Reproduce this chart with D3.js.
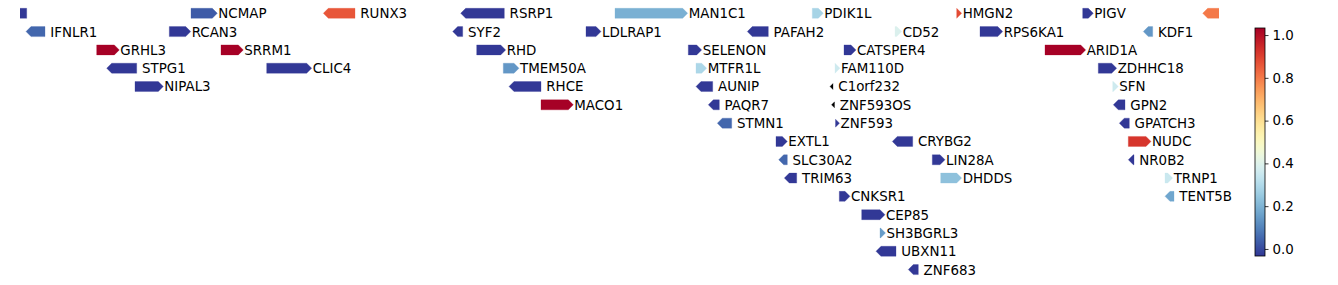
<!DOCTYPE html>
<html>
<head>
<meta charset="utf-8">
<script src="https://cdn.jsdelivr.net/npm/d3@7"></script>
<style>
  html, body { margin: 0; padding: 0; background: #fff; }
  svg { display: block; }
  text { font-family: "DejaVu Sans", sans-serif; }
</style>
</head>
<body>
<svg id="chart" width="1338" height="285"></svg>
<script>
// ---- data (positions in region units) ----
const geneNames  = ["", "NCMAP", "RUNX3", "RSRP1", "MAN1C1", "PDIK1L", "HMGN2", "PIGV", "",
  "IFNLR1", "RCAN3", "SYF2", "LDLRAP1", "PAFAH2", "CD52", "RPS6KA1", "KDF1",
  "GRHL3", "SRRM1", "RHD", "SELENON", "CATSPER4", "ARID1A",
  "STPG1", "CLIC4", "TMEM50A", "MTFR1L", "FAM110D", "ZDHHC18",
  "NIPAL3", "RHCE", "AUNIP", "C1orf232", "SFN",
  "MACO1", "PAQR7", "ZNF593OS", "GPN2",
  "STMN1", "ZNF593", "GPATCH3",
  "EXTL1", "CRYBG2", "NUDC",
  "SLC30A2", "LIN28A", "NR0B2",
  "TRIM63", "DHDDS", "TRNP1",
  "CNKSR1", "TENT5B",
  "CEP85", "SH3BGRL3", "UBXN11", "ZNF683"];
const geneStart  = [-10, 171, 303.3, 440.7, 595, 792.3, 936.7, 1062.7, 1182.7,
  6, 149.3, 432.7, 566, 727.3, 875, 960, 1123.3,
  76.7, 201, 456.7, 668.3, 824, 1025,
  86.7, 246.7, 483.3, 676, 815, 1078.3,
  115, 489, 676, 810, 1092.7,
  521, 688.3, 811.5, 1093.3,
  697.3, 815.5, 1099.3,
  756, 872.3, 1108.3,
  758.7, 912.3, 1108.3,
  764.3, 920.7, 1145,
  819.3, 1145,
  841.7, 860, 856, 888.3];
const geneEnd    = [6.7, 197.3, 335, 484.3, 667.7, 803.3, 941.7, 1073.3, 1210,
  25, 170.7, 442.7, 581, 748.3, 881.7, 982.7, 1132.7,
  99.3, 223.3, 485.7, 681.7, 836, 1065.7,
  116.7, 291.7, 499, 686.7, 820, 1096.7,
  143.3, 521, 692.7, 813, 1098.3,
  553.3, 699.3, 814.5, 1105,
  711.7, 819.5, 1109.3,
  767.3, 892.7, 1131,
  767.3, 925, 1114,
  776.7, 941.7, 1152.7,
  830, 1154,
  865, 865.5, 876, 898.3];
const geneStrand = ["-", "+", "-", "-", "+", "+", "+", "+", "-",
  "-", "+", "-", "+", "-", "+", "+", "-",
  "+", "+", "+", "+", "+", "+",
  "-", "+", "+", "+", "+", "+",
  "+", "-", "-", "-", "+",
  "+", "-", "-", "-",
  "-", "+", "-",
  "+", "-", "+",
  "-", "+", "-",
  "-", "+", "+",
  "+", "-",
  "+", "+", "-", "-"];
const geneRow    = [0, 0, 0, 0, 0, 0, 0, 0, 0,
  1, 1, 1, 1, 1, 1, 1, 1,
  2, 2, 2, 2, 2, 2,
  3, 3, 3, 3, 3, 3,
  4, 4, 4, 4, 4,
  5, 5, 5, 5,
  6, 6, 6,
  7, 7, 7,
  8, 8, 8,
  9, 9, 9,
  10, 10,
  11, 12, 13, 14];
const geneValue  = [-0.03, 0.03, 0.86, -0.03, 0.19, 0.28, 0.88, -0.03, 0.80,
  0.05, -0.03, -0.03, -0.03, -0.03, 0.39, -0.03, 0.14,
  1.03, 1.03, -0.03, -0.03, -0.03, 1.03,
  -0.03, -0.03, 0.14, 0.29, 0.36, -0.03,
  -0.03, -0.03, -0.03, null, 0.36,
  1.03, -0.03, null, -0.03,
  0.05, -0.03, -0.03,
  -0.03, -0.03, 0.92,
  0.05, -0.03, -0.03,
  -0.03, 0.23, 0.35,
  -0.03, 0.17,
  -0.03, 0.15, -0.03, -0.03];
const regionDomain   = [0, 1199];
const colorDomain    = [-0.033, 1.033];
const colorbarTicks  = [0.0, 0.2, 0.4, 0.6, 0.8, 1.0];
const rowCount = 15;

// ---- drawing ----
const svg = d3.select("#chart");
const plot = {left: 20, right: 1219, top: 0, bottom: 285};
const x = d3.scaleLinear().domain(regionDomain).range([plot.left, plot.right]);
const y = d3.scaleLinear().domain([0, rowCount - 1]).range([13.3, 269.6]);
const cmap = t => d3.interpolateRdYlBu(1 - t);
const color = d3.scaleSequential(cmap).domain(colorDomain);

svg.append("defs").append("clipPath").attr("id", "plotclip")
  .append("rect").attr("x", plot.left).attr("y", 0)
  .attr("width", plot.right - plot.left).attr("height", 285);

const genes = geneNames.map((n, i) => ({
  name: n, start: geneStart[i], end: geneEnd[i], strand: geneStrand[i],
  row: geneRow[i], value: geneValue[i]
}));

const halfH = 5, headLen = 5;
function arrowPath(d) {
  const x0 = x(d.start), x1 = x(d.end), cy = y(d.row);
  const L = x1 - x0;
  const h = Math.min(headLen, L);
  const hh = L >= headLen ? halfH : halfH * L / headLen;
  const p = d3.path();
  if (d.strand === "+") {
    if (L > h) {
      p.moveTo(x0, cy - halfH); p.lineTo(x1 - h, cy - halfH); p.lineTo(x1, cy);
      p.lineTo(x1 - h, cy + halfH); p.lineTo(x0, cy + halfH);
    } else {
      p.moveTo(x1 - h, cy - hh); p.lineTo(x1, cy); p.lineTo(x1 - h, cy + hh);
    }
  } else {
    if (L > h) {
      p.moveTo(x1, cy - halfH); p.lineTo(x0 + h, cy - halfH); p.lineTo(x0, cy);
      p.lineTo(x0 + h, cy + halfH); p.lineTo(x1, cy + halfH);
    } else {
      p.moveTo(x0 + h, cy - hh); p.lineTo(x0, cy); p.lineTo(x0 + h, cy + hh);
    }
  }
  p.closePath();
  return p.toString();
}

const g = svg.append("g").attr("clip-path", "url(#plotclip)");
g.selectAll("path.gene").data(genes).join("path")
  .attr("class", "gene")
  .attr("d", arrowPath)
  .attr("fill", d => d.value === null ? "#000" : color(d.value))
  .attr("stroke", d => d.value === null ? "#000" : color(d.value))
  .attr("stroke-width", 0.3);

svg.append("g").selectAll("text.label").data(genes.filter(d => d.name))
  .join("text")
  .attr("class", "label")
  .attr("x", d => x(d.end) + (d.strand === "+" ? 1 : 5.3))
  .attr("y", d => y(d.row))
  .attr("dy", "0.37em")
  .attr("font-size", "13.4px")
  .attr("fill", "#000")
  .text(d => d.name);

// ---- colorbar ----
const cb = {x: 1255, y: 28, w: 10, h: 228};
const grad = svg.select("defs").append("linearGradient")
  .attr("id", "cbgrad").attr("x1", 0).attr("y1", 1).attr("x2", 0).attr("y2", 0);
d3.range(0, 1.0001, 0.02).forEach(t => {
  grad.append("stop").attr("offset", t).attr("stop-color", cmap(t));
});
svg.append("rect").attr("x", cb.x).attr("y", cb.y).attr("width", cb.w).attr("height", cb.h)
  .attr("fill", "url(#cbgrad)");
const cy = d3.scaleLinear().domain(colorDomain).range([cb.y + cb.h, cb.y]);
const cbAxis = svg.append("g").attr("transform", `translate(${cb.x + cb.w},0)`)
  .call(d3.axisRight(cy).tickValues(colorbarTicks).tickFormat(d3.format(".1f"))
    .tickSize(3.5).tickPadding(4));
cbAxis.select(".domain").remove();
cbAxis.selectAll("text").attr("font-size", "13.4px").attr("font-family", "DejaVu Sans, sans-serif").attr("fill", "#000");
cbAxis.selectAll("line").attr("stroke", "#000").attr("stroke-width", 0.8);
svg.append("rect").attr("x", cb.x).attr("y", cb.y).attr("width", cb.w).attr("height", cb.h)
  .attr("fill", "none").attr("stroke", "#000").attr("stroke-width", 0.8);
</script>
</body>
</html>
